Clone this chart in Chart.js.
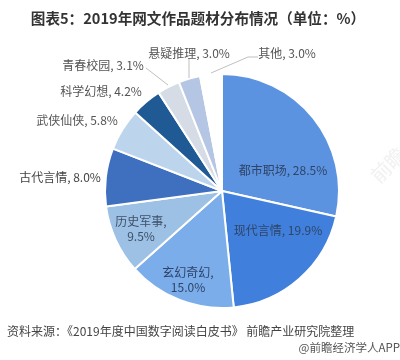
<!DOCTYPE html>
<html>
<head>
<meta charset="utf-8">
<script src="https://cdn.jsdelivr.net/npm/chart.js@4"></script>
<style>
    html, body { margin: 0; padding: 0; background: #fff; }
    #wrap { position: relative; width: 400px; height: 360px; overflow: hidden; }
    canvas { position: absolute; left: 0; top: 0; }
</style>
</head>
<body>
<div id="wrap"><canvas id="pieChart" width="400" height="360"></canvas></div>
<script>
const categories = ['都市职场', '现代言情', '玄幻奇幻', '历史军事', '古代言情', '武侠仙侠', '科学幻想', '青春校园', '悬疑推理', '其他'];
const shares = [28.5, 19.9, 15.0, 9.5, 8.0, 5.8, 4.2, 3.1, 3.0, 3.0];
const sliceColors = ['#5b93e0', '#4080dc', '#7aadea', '#9dc0e5', '#3f6fbf', '#bdd5ec', '#205a94', '#d5dce6', '#b4c6e4', '#ffffff'];

const titleText = '图表5：2019年网文作品题材分布情况（单位：%）';
const sourceText = '资料来源：《2019年度中国数字阅读白皮书》 前瞻产业研究院整理';
const brandText = '@前瞻经济学人APP';
const watermarkText = '前瞻';

const FONT = '"Noto Sans CJK SC", "Noto Sans", sans-serif';

// 标签位置 (两行的标签用 two)
const labelSpots = [
    { x: 283, y: 170 }, { x: 278, y: 230 }, { x: 188, y: 279.5, two: true },
    { x: 141, y: 228.5, two: true }, { x: 60, y: 177 }, { x: 77, y: 120 },
    { x: 101, y: 91 }, { x: 103, y: 65 }, { x: 189, y: 53 }, { x: 287, y: 53 }
];
const labelColors = ['#2f4468', '#2f4468', '#2f4468', '#3f5068', '#444', '#555', '#555', '#555', '#555', '#555'];

// 引导线
const leaders = [
    [[146, 68], [168, 85]],
    [[189, 58], [189, 78]],
    [[258, 57], [248, 57], [211, 73]]
];

const sliceLabels = {
    id: 'sliceLabels',
    afterDraw(chart) {
        const c = chart.ctx;
        c.save();
        // 水印
        c.save();
        c.translate(388, 165);
        c.rotate(-Math.PI / 4);
        c.fillStyle = '#f1f1f1';
        c.font = '20px ' + FONT;
        c.textAlign = 'center';
        c.textBaseline = 'middle';
        c.fillText(watermarkText, 0, 0);
        c.restore();

        c.strokeStyle = '#bfbfbf';
        c.lineWidth = 1;
        leaders.forEach(pts => {
            c.beginPath();
            pts.forEach((p, i) => i ? c.lineTo(p[0], p[1]) : c.moveTo(p[0], p[1]));
            c.stroke();
        });
        c.textAlign = 'center';
        c.textBaseline = 'middle';
        c.font = '12px ' + FONT;
        categories.forEach((name, i) => {
            const spot = labelSpots[i];
            const val = shares[i].toFixed(1) + '%';
            c.fillStyle = labelColors[i];
            if (spot.two) {
                c.fillText(name + ',', spot.x, spot.y - 7.5);
                c.fillText(val, spot.x, spot.y + 7.5);
            } else {
                c.fillText(name + ', ' + val, spot.x, spot.y);
            }
        });
        // 标题和来源
        c.fillStyle = '#333';
        c.font = 'bold 14.6px ' + FONT;
        c.fillText(titleText, 198, 18);
        c.textAlign = 'left';
        c.fillStyle = '#444';
        c.font = '12px ' + FONT;
        c.fillText(sourceText, 7, 331);
        c.fillStyle = '#555';
        c.font = '11.5px ' + FONT;
        c.textAlign = 'right';
        c.fillText(brandText, 400, 348);
        c.restore();
    }
};

new Chart(document.getElementById('pieChart').getContext('2d'), {
    type: 'pie',
    data: {
        labels: categories,
        datasets: [{
            data: shares,
            backgroundColor: sliceColors,
            borderColor: '#ffffff',
            borderWidth: 2
        }]
    },
    options: {
        responsive: false,
        animation: false,
        layout: { padding: { left: 104, right: 60, top: 73, bottom: 51 } },
        plugins: {
            legend: { display: false },
            tooltip: { enabled: false }
        }
    },
    plugins: [sliceLabels]
});
</script>
</body>
</html>
